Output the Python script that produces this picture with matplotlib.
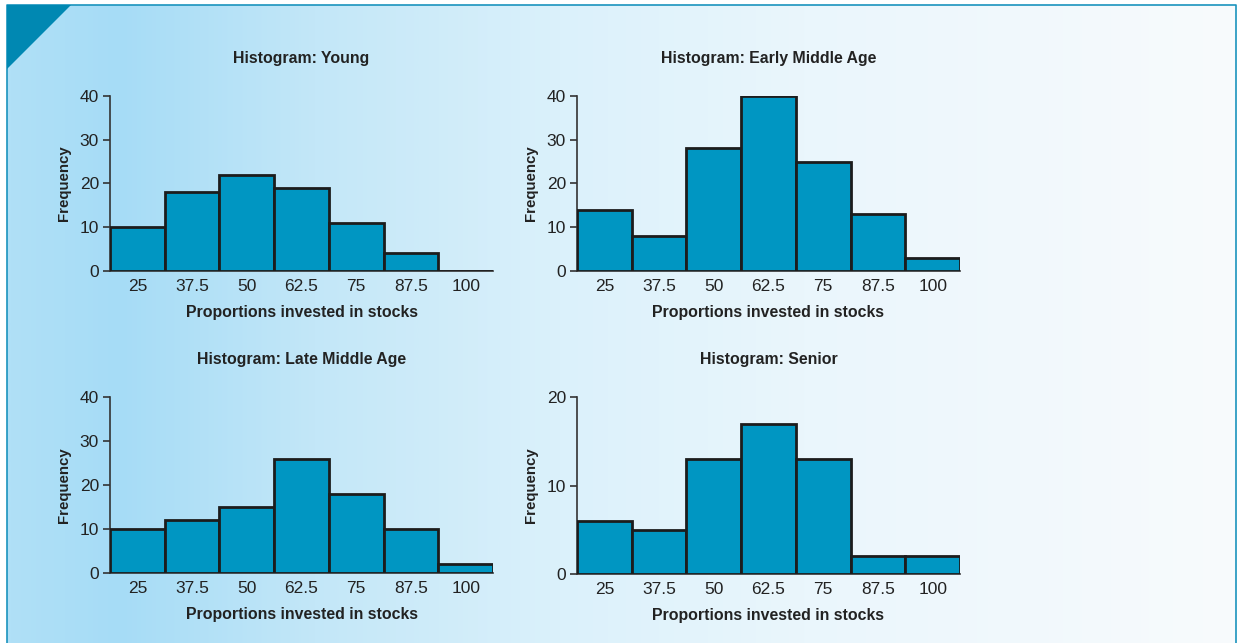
import numpy as np
import matplotlib.pyplot as plt
from matplotlib.colors import LinearSegmentedColormap
from matplotlib.patches import Polygon

plt.rcParams['font.family'] = ['Liberation Sans', 'DejaVu Sans']

bins = [25, 37.5, 50, 62.5, 75, 87.5, 100]
tick_labels = ['25', '37.5', '50', '62.5', '75', '87.5', '100']

young = [10, 18, 22, 19, 11, 4, 0]
early_middle = [14, 8, 28, 40, 25, 13, 3]
late_middle = [10, 12, 15, 26, 18, 10, 2]
senior = [6, 5, 13, 17, 13, 2, 2]

panels = [
    ('Histogram: Young', young, 40, [0, 10, 20, 30, 40]),
    ('Histogram: Early Middle Age', early_middle, 40, [0, 10, 20, 30, 40]),
    ('Histogram: Late Middle Age', late_middle, 40, [0, 10, 20, 30, 40]),
    ('Histogram: Senior', senior, 20, [0, 10, 20]),
]

W, H = 1241, 643
fig = plt.figure(figsize=(W / 100, H / 100), dpi=100)

# background panel with gradient, border and corner triangle
bg = fig.add_axes([0, 0, 1, 1], zorder=-10)
bg.set_xlim(0, W)
bg.set_ylim(H, 0)
bg.axis('off')
cmap = LinearSegmentedColormap.from_list('bg', [
    (0.0, '#b0e0f7'), (0.09, '#a6dcf6'), (0.25, '#c3e7f8'),
    (0.45, '#dbf1fb'), (0.65, '#eaf6fc'), (1.0, '#f8fbfd')])
grad = np.linspace(0, 1, 512).reshape(1, -1)
bg.imshow(grad, cmap=cmap, aspect='auto', extent=[7, 1236, H, 5], zorder=0)
bg.plot([7, 7, 1236, 1236], [H, 5, 5, H], color='#1a93bd', lw=1.2, zorder=2)
bg.add_patch(Polygon([[7, 5], [71, 5], [7, 69]], closed=True,
                     facecolor='#0088b2', edgecolor='none', zorder=3))

positions = [
    [110 / W, 1 - 271 / H, 383 / W, 175 / H],
    [577 / W, 1 - 271 / H, 383 / W, 175 / H],
    [110 / W, 1 - 573 / H, 383 / W, 176 / H],
    [577 / W, 1 - 574 / H, 383 / W, 177 / H],
]

for (title, vals, ymax, yticks), pos in zip(panels, positions):
    ax = fig.add_axes(pos)
    ax.set_facecolor('none')
    ax.bar(bins, vals, width=12.5, color='#0096c2', edgecolor='#1c1c1c',
           linewidth=2.0, zorder=3)
    ax.set_xlim(18.75, 106.25)
    ax.set_ylim(0, ymax)
    ax.set_xticks(bins)
    ax.set_xticklabels(tick_labels)
    ax.set_yticks(yticks)
    ax.spines['top'].set_visible(False)
    ax.spines['right'].set_visible(False)
    for s in ('left', 'bottom'):
        ax.spines[s].set_color('#333333')
        ax.spines[s].set_linewidth(1.2)
    ax.tick_params(axis='x', length=0, pad=6, labelsize=12.5, labelcolor='#222222')
    ax.tick_params(axis='y', length=5, width=1.2, color='#333333', pad=3,
                   labelsize=12.5, labelcolor='#222222')
    ax.set_title(title, fontsize=11.4, fontweight='bold', color='#222222', pad=24)
    ax.set_xlabel('Proportions invested in stocks', fontsize=11.4,
                  fontweight='bold', color='#222222', labelpad=8)
    ax.set_ylabel('Frequency', fontsize=10.8, fontweight='bold',
                  color='#222222', labelpad=6)

fig.savefig('out.png', dpi=100)
